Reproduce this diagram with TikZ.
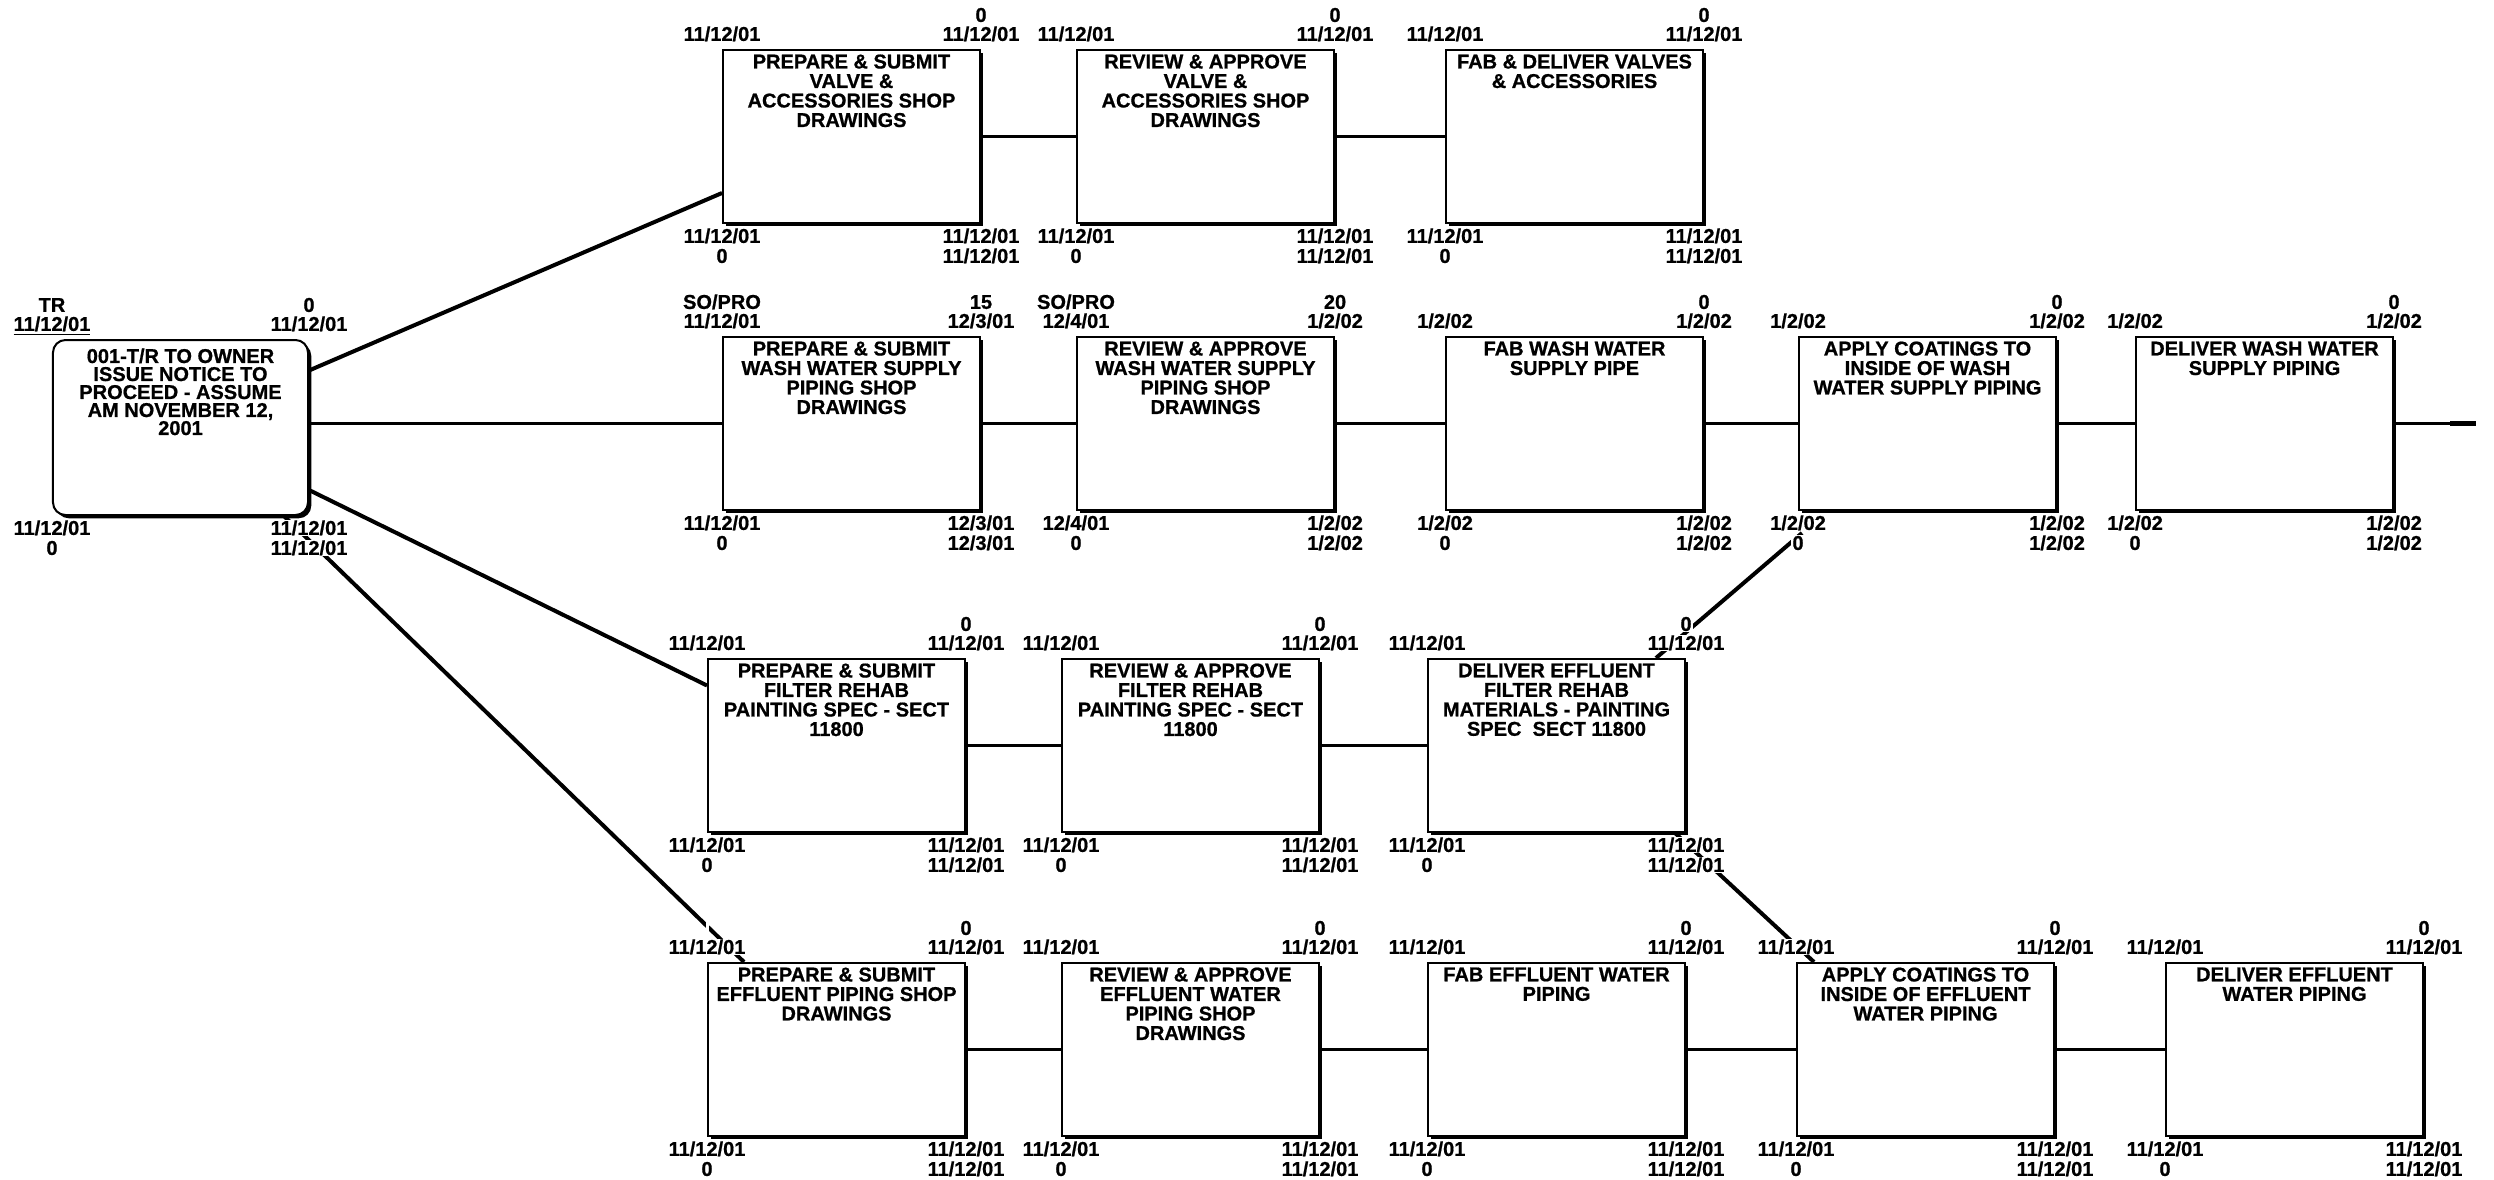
\documentclass[tikz,border=0pt]{standalone}
\usepackage{fontspec}
\setmainfont{Liberation Sans}[BoldFeatures={FakeBold=0.8}]
\usetikzlibrary{shadows}
\tikzset{
  abox/.style={draw, line width=0.8pt, fill=white, rectangle,
    minimum width=102.8pt, minimum height=69.2pt, inner sep=0pt,
    drop shadow={shadow xshift=1.3pt, shadow yshift=-1.3pt, fill=black, opacity=1}},
  sbox/.style={abox, rounded corners=5pt, minimum width=102pt, minimum height=70pt},
  atext/.style={anchor=north, align=center, inner sep=0pt,
    font=\bfseries\fontsize{8}{7.8}\selectfont},
  stext/.style={atext, font=\bfseries\fontsize{8}{7.2}\selectfont},
  lab/.style={fill=white, inner sep=0.6pt, text height=5.5pt, text depth=0pt,
    font=\bfseries\fontsize{8}{7.8}\selectfont},
  link/.style={line width=1.1pt},
  tlink/.style={line width=1.6pt},
}
\newcommand{\actbox}[4]{%
  \node[abox] (#1) at (#2+128.5,#3+86.5) {};
  \node[atext] (#1-t) at ([yshift=-2pt]#1.north) {#4};
}
\newcommand{\lbls}[9]{%
  \node[lab] (#1-a) at ([yshift=13.6pt]#1.north west) {#2};
  \node[lab] (#1-b) at ([yshift=6pt]#1.north west) {#3};
  \node[lab] (#1-c) at ([yshift=13.6pt]#1.north east) {#4};
  \node[lab] (#1-d) at ([yshift=6pt]#1.north east) {#5};
  \node[lab] (#1-e) at ([yshift=-4.8pt]#1.south west) {#6};
  \node[lab] (#1-f) at ([yshift=-12.8pt]#1.south west) {#7};
  \node[lab] (#1-g) at ([yshift=-4.8pt]#1.south east) {#8};
  \node[lab] (#1-h) at ([yshift=-12.8pt]#1.south east) {#9};
}
\newcommand{\stdl}[1]{\lbls{#1}{}{11/12/01}{0}{11/12/01}{11/12/01}{0}{11/12/01}{11/12/01}}
\newcommand{\janl}[1]{\lbls{#1}{}{1/2/02}{0}{1/2/02}{1/2/02}{0}{1/2/02}{1/2/02}}
\begin{document}
\begin{tikzpicture}[x=0.4pt,y=-0.4pt]
\useasboundingbox (0,0) rectangle (2494,1180);
% start node
\node[sbox] (start) at (180.5,427.5) {};
\node[stext] (start-t) at ([yshift=-3.6pt]start.north) {001-T/R TO OWNER\\ISSUE NOTICE TO\\PROCEED - ASSUME\\AM NOVEMBER 12,\\2001};
% row 1
\actbox{r1b1}{723}{50}{PREPARE \& SUBMIT\\VALVE \&\\ACCESSORIES SHOP\\DRAWINGS}
\actbox{r1b2}{1077}{50}{REVIEW \& APPROVE\\VALVE \&\\ACCESSORIES SHOP\\DRAWINGS}
\actbox{r1b3}{1446}{50}{FAB \& DELIVER VALVES\\\& ACCESSORIES}
% row 2
\actbox{r2b1}{723}{337}{PREPARE \& SUBMIT\\WASH WATER SUPPLY\\PIPING SHOP\\DRAWINGS}
\actbox{r2b2}{1077}{337}{REVIEW \& APPROVE\\WASH WATER SUPPLY\\PIPING SHOP\\DRAWINGS}
\actbox{r2b3}{1446}{337}{FAB WASH WATER\\SUPPLY PIPE}
\actbox{r2b4}{1799}{337}{APPLY COATINGS TO\\INSIDE OF WASH\\WATER SUPPLY PIPING}
\actbox{r2b5}{2136}{337}{DELIVER WASH WATER\\SUPPLY PIPING}
% row 3
\actbox{r3b1}{708}{659}{PREPARE \& SUBMIT\\FILTER REHAB\\PAINTING SPEC - SECT\\11800}
\actbox{r3b2}{1062}{659}{REVIEW \& APPROVE\\FILTER REHAB\\PAINTING SPEC - SECT\\11800}
\actbox{r3b3}{1428}{659}{DELIVER EFFLUENT\\FILTER REHAB\\MATERIALS - PAINTING\\SPEC\ \ SECT 11800}
% row 4
\actbox{r4b1}{708}{963}{PREPARE \& SUBMIT\\EFFLUENT PIPING SHOP\\DRAWINGS}
\actbox{r4b2}{1062}{963}{REVIEW \& APPROVE\\EFFLUENT WATER\\PIPING SHOP\\DRAWINGS}
\actbox{r4b3}{1428}{963}{FAB EFFLUENT WATER\\PIPING}
\actbox{r4b4}{1797}{963}{APPLY COATINGS TO\\INSIDE OF EFFLUENT\\WATER PIPING}
\actbox{r4b5}{2166}{963}{DELIVER EFFLUENT\\WATER PIPING}
% connectors from start
\draw[tlink] ([yshift=22.8pt]start.east) -- ([yshift=-22.6pt]r1b1.west);
\draw[link] (start.east |- r2b1.west) -- (r2b1.west);
\draw[tlink] ([yshift=-25pt]start.east) -- ([yshift=24pt]r3b1.west);
\draw[tlink] ([xshift=-10pt]start.south east) -- ([xshift=14.8pt]r4b1.north west);
% row connectors
\draw[link] (r1b1.east) -- (r1b2.west);
\draw[link] (r1b2.east) -- (r1b3.west);
\draw[link] (r2b1.east) -- (r2b2.west);
\draw[link] (r2b2.east) -- (r2b3.west);
\draw[link] (r2b3.east) -- (r2b4.west);
\draw[link] (r2b4.east) -- (r2b5.west);
\coordinate (stubend) at (2476,424);
\draw[link] (r2b5.east) -- (r2b5.east -| stubend);
\draw[line width=1.8pt] ([xshift=-10.4pt]r2b5.east -| stubend) -- (r2b5.east -| stubend);
\draw[link] (r3b1.east) -- (r3b2.west);
\draw[link] (r3b2.east) -- (r3b3.west);
\draw[link] (r4b1.east) -- (r4b2.west);
\draw[link] (r4b2.east) -- (r4b3.west);
\draw[link] (r4b3.east) -- (r4b4.west);
\draw[link] (r4b4.east) -- (r4b5.west);
% cross connectors
\draw[tlink] ([xshift=-12pt]r3b3.north east) -- ([xshift=1.6pt,yshift=-8.8pt]r2b4.south west);
\draw[tlink] ([xshift=-4.4pt]r3b3.south east) -- ([xshift=7.2pt]r4b4.north west);
% labels
\lbls{start}{TR}{\underline{11/12/01}}{0}{11/12/01}{11/12/01}{0}{11/12/01}{11/12/01}
\stdl{r1b1}\stdl{r1b2}\stdl{r1b3}
\lbls{r2b1}{SO/PRO}{11/12/01}{15}{12/3/01}{11/12/01}{0}{12/3/01}{12/3/01}
\lbls{r2b2}{SO/PRO}{12/4/01}{20}{1/2/02}{12/4/01}{0}{1/2/02}{1/2/02}
\janl{r2b3}\janl{r2b4}\janl{r2b5}
\stdl{r3b1}\stdl{r3b2}\stdl{r3b3}
\stdl{r4b1}\stdl{r4b2}\stdl{r4b3}\stdl{r4b4}\stdl{r4b5}
\end{tikzpicture}
\end{document}
